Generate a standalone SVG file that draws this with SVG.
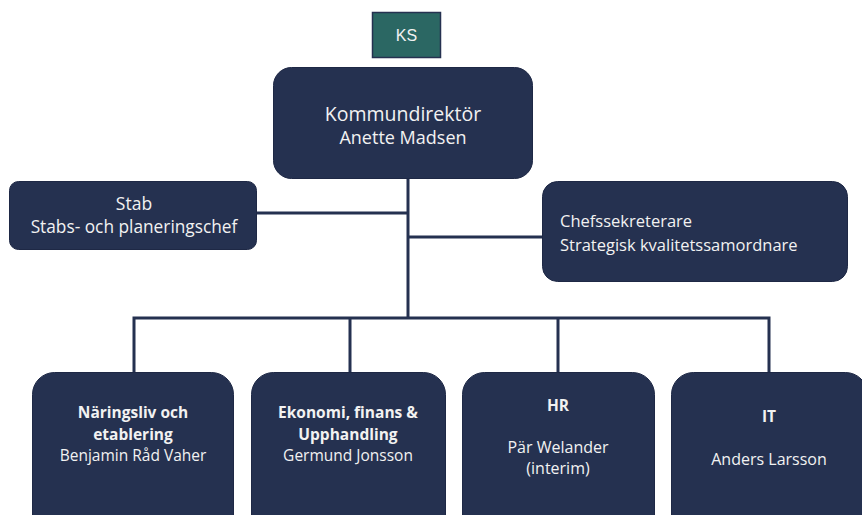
<svg xmlns="http://www.w3.org/2000/svg" width="862" height="515" viewBox="0 0 862 515">
<style>
.box{fill:#253150;stroke:#1e2845;stroke-width:1}
.t{font-family:"Open Sans","Noto Sans",sans-serif;fill:#f2f2f2}
.c{text-anchor:middle}
.b{font-weight:bold}
.ln{fill:none;stroke:#253150;stroke-width:3}
</style>
<rect width="862" height="515" fill="#ffffff"/>
<g id="connectors">
<path class="ln" d="M408,178 V318"/>
<path class="ln" d="M257,213 H408"/>
<path class="ln" d="M408,237 H542"/>
<path class="ln" d="M134,372 V318 H769 V372"/>
<path class="ln" d="M350,318 V372"/>
<path class="ln" d="M558,318 V372"/>
</g>
<g id="ks">
<rect x="372.5" y="12.5" width="68" height="45" fill="#2b6763" stroke="#253150" stroke-width="1.5"/>
<text class="c" x="406.5" y="41" font-family="Liberation Sans, Arial, sans-serif" font-size="16" fill="#f2f2f2">KS</text>
</g>
<g id="kommundirektor">
<rect class="box" x="273.5" y="67.5" width="259" height="111" rx="18"/>
<text class="t c" x="403" y="121" font-size="19.5">Kommundirektör</text>
<text class="t c" x="403" y="144" font-size="18">Anette Madsen</text>
</g>
<g id="stab">
<rect class="box" x="9.5" y="181.5" width="247" height="68" rx="9"/>
<text class="t c" x="134" y="210" font-size="17.5">Stab</text>
<text class="t c" x="134" y="233" font-size="17.3">Stabs- och planeringschef</text>
</g>
<g id="chef">
<rect class="box" x="542.5" y="181.5" width="305" height="100" rx="15"/>
<text class="t" x="560" y="227" font-size="16.5">Chefssekreterare</text>
<text class="t" x="560" y="251" font-size="16.5">Strategisk kvalitetssamordnare</text>
</g>
<g id="naringsliv">
<rect class="box" x="32.5" y="372.5" width="201" height="170" rx="22"/>
<text class="t c b" x="133" y="418" font-size="15.5">Näringsliv och</text>
<text class="t c b" x="133" y="440" font-size="15.5">etablering</text>
<text class="t c" x="133" y="461" font-size="15.5">Benjamin Råd Vaher</text>
</g>
<g id="ekonomi">
<rect class="box" x="251.5" y="372.5" width="194" height="170" rx="22"/>
<text class="t c b" x="348" y="418" font-size="15.5">Ekonomi, finans &amp;</text>
<text class="t c b" x="348" y="440" font-size="15.5">Upphandling</text>
<text class="t c" x="348" y="461" font-size="15.5">Germund Jonsson</text>
</g>
<g id="hr">
<rect class="box" x="462.5" y="372.5" width="192" height="170" rx="22"/>
<text class="t c b" x="558" y="411" font-size="15.5">HR</text>
<text class="t c" x="558" y="453" font-size="16">Pär Welander</text>
<text class="t c" x="558" y="474" font-size="16">(interim)</text>
</g>
<g id="it">
<rect class="box" x="671.5" y="372.5" width="196" height="170" rx="22"/>
<text class="t c b" x="769" y="422" font-size="15.5">IT</text>
<text class="t c" x="769" y="465" font-size="16">Anders Larsson</text>
</g>
</svg>
